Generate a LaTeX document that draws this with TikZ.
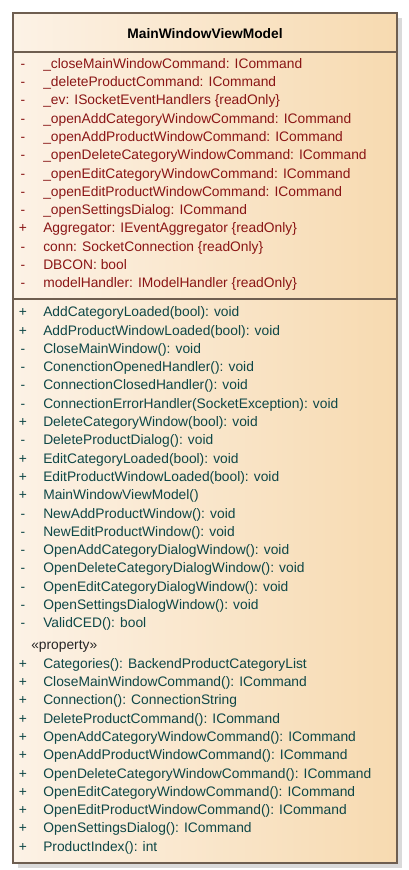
\documentclass[tikz,border=0pt]{standalone}
\usepackage{fontspec}
\setmainfont{Liberation Sans}
\definecolor{attrc}{HTML}{8A1515}
\definecolor{operc}{HTML}{0E4747}
\definecolor{framec}{HTML}{6E5E50}
\definecolor{fillL}{HTML}{FCF2E6}
\definecolor{fillR}{HTML}{F7DAB0}
\definecolor{shadowc}{HTML}{DADADA}
\begin{document}
\begin{tikzpicture}[x=0.75pt,y=-0.75pt,
  txt/.style={inner sep=0pt, anchor=west, text height=0.716em, text depth=0pt,
    font=\fontsize{10.35}{12}\selectfont},
  vismark/.style={txt, anchor=center},
  attr/.style={txt, text=attrc},
  oper/.style={txt, text=operc},
  sep/.style={draw=framec, line width=0.9pt}]
\useasboundingbox (0,0) rectangle (409,870);
% shadow
\fill[shadowc] (18,18) rectangle (402,868);
% class box
\shade[left color=fillL, right color=fillR] (13,13) rectangle (397,863);
\draw[framec, line width=1pt] (13,13) rectangle (397,863);
\draw[sep] (13,52) -- (397,52);
\draw[sep] (13,299) -- (397,299);
% title
\node[txt, anchor=center, font=\fontsize{10.35}{12}\selectfont\bfseries] (title) at (205,34) {MainWindowViewModel};
% attributes
\foreach \m/\t [count=\i from 0] in {
  -/\_closeMainWindowCommand: ICommand,
  -/\_deleteProductCommand: ICommand,
  -/\_ev: ISocketEventHandlers \{readOnly\},
  -/\_openAddCategoryWindowCommand: ICommand,
  -/\_openAddProductWindowCommand: ICommand,
  -/\_openDeleteCategoryWindowCommand: ICommand,
  -/\_openEditCategoryWindowCommand: ICommand,
  -/\_openEditProductWindowCommand: ICommand,
  -/\_openSettingsDialog: ICommand,
  +/Aggregator: IEventAggregator \{readOnly\},
  -/conn: SocketConnection \{readOnly\},
  -/DBCON: bool,
  -/modelHandler: IModelHandler \{readOnly\}}{
  \node[vismark, text=attrc] (am\i) at (23,63.5+18.3*\i) {\m};
  \node[attr] (a\i) at (43,63.5+18.3*\i) {\t};
}
% operations
\foreach \m/\t [count=\i from 0] in {
  +/AddCategoryLoaded(bool): void,
  +/AddProductWindowLoaded(bool): void,
  -/CloseMainWindow(): void,
  -/ConenctionOpenedHandler(): void,
  -/ConnectionClosedHandler(): void,
  -/ConnectionErrorHandler(SocketException): void,
  +/DeleteCategoryWindow(bool): void,
  -/DeleteProductDialog(): void,
  +/EditCategoryLoaded(bool): void,
  +/EditProductWindowLoaded(bool): void,
  +/MainWindowViewModel(),
  -/NewAddProductWindow(): void,
  -/NewEditProductWindow(): void,
  -/OpenAddCategoryDialogWindow(): void,
  -/OpenDeleteCategoryDialogWindow(): void,
  -/OpenEditCategoryDialogWindow(): void,
  -/OpenSettingsDialogWindow(): void,
  -/ValidCED(): bool}{
  \node[vismark, text=operc] (om\i) at (23,312+18.3*\i) {\m};
  \node[oper] (o\i) at (43,312+18.3*\i) {\t};
}
% stereotype
\node[txt, text=black!85] (stereo) at (31,645) {«property»};
% properties
\foreach \m/\t [count=\i from 0] in {
  +/Categories(): BackendProductCategoryList,
  +/CloseMainWindowCommand(): ICommand,
  +/Connection(): ConnectionString,
  +/DeleteProductCommand(): ICommand,
  +/OpenAddCategoryWindowCommand(): ICommand,
  +/OpenAddProductWindowCommand(): ICommand,
  +/OpenDeleteCategoryWindowCommand(): ICommand,
  +/OpenEditCategoryWindowCommand(): ICommand,
  +/OpenEditProductWindowCommand(): ICommand,
  +/OpenSettingsDialog(): ICommand,
  +/ProductIndex(): int}{
  \node[vismark, text=operc] (pm\i) at (23,663.5+18.3*\i) {\m};
  \node[oper] (p\i) at (43,663.5+18.3*\i) {\t};
}
\end{tikzpicture}
\end{document}
